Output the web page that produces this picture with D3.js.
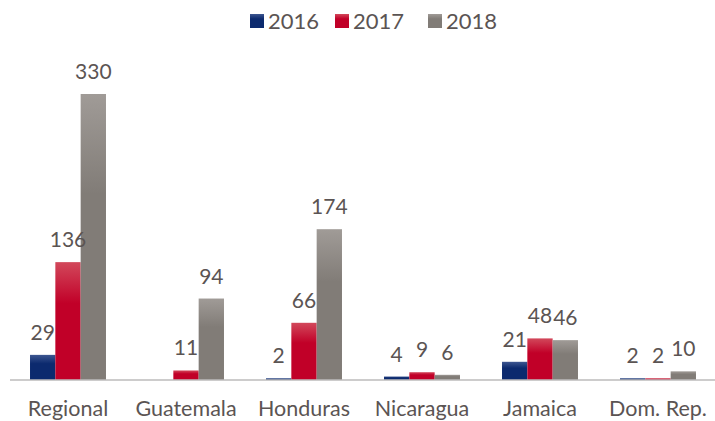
<!DOCTYPE html>
<html>
<head>
<meta charset="utf-8">
<script src="https://cdn.jsdelivr.net/npm/d3@7"></script>
<style>
  html, body { margin: 0; padding: 0; background: #fff; }
  svg { display: block; font-family: Lato, "Open Sans", sans-serif; }
</style>
</head>
<body>
<svg id="chart" width="715" height="421"></svg>
<script>
// Countries and yearly counts
const categories = ["Regional", "Guatemala", "Honduras", "Nicaragua", "Jamaica", "Dom. Rep."];
const years = ["2016", "2017", "2018"];
const values2016 = [29, null, 2, 4, 21, 2];
const values2017 = [136, 11, 66, 9, 48, 2];
const values2018 = [330, 94, 174, 6, 46, 10];
const seriesValues = [values2016, values2017, values2018];

const colors = {
  "2016": ["#3d5690", "#0c2a6e"],
  "2017": ["#d2485b", "#c10028"],
  "2018": ["#a09b97", "#817c77"]
};
const textColor = "#5b5453";

const svg = d3.select("#chart");

// Vertical gradients, lighter near the top of each bar
const defs = svg.append("defs");
years.forEach(y => {
  const g = defs.append("linearGradient")
    .attr("id", "grad" + y)
    .attr("x1", 0).attr("y1", 0).attr("x2", 0).attr("y2", 1);
  g.append("stop").attr("offset", "0%").attr("stop-color", colors[y][0]);
  g.append("stop").attr("offset", "35%").attr("stop-color", colors[y][1]);
  g.append("stop").attr("offset", "100%").attr("stop-color", colors[y][1]);
});

const x0 = d3.scaleBand().domain(categories).range([9, 717]).paddingInner(0).paddingOuter(0);
const x1 = d3.scaleBand().domain(years).range([0, x0.bandwidth()]).paddingInner(0).paddingOuter(0.83);
const y = d3.scaleLinear().domain([0, 330]).range([380, 94]);

const data = categories.map((c, i) => ({
  category: c,
  bars: years.map((yr, j) => ({ year: yr, value: seriesValues[j][i] }))
}));

const groups = svg.append("g").selectAll("g")
  .data(data).join("g")
  .attr("transform", d => `translate(${x0(d.category)},0)`);

groups.selectAll("rect")
  .data(d => d.bars.filter(b => b.value != null))
  .join("rect")
  .attr("x", d => x1(d.year))
  .attr("y", d => y(d.value))
  .attr("width", x1.bandwidth())
  .attr("height", d => y(0) - y(d.value))
  .attr("fill", d => `url(#grad${d.year})`);

groups.selectAll("text.val")
  .data(d => d.bars.filter(b => b.value != null))
  .join("text")
  .attr("class", "val")
  .attr("x", d => x1(d.year) + x1.bandwidth() / 2)
  .attr("y", d => y(d.value) - 15)
  .attr("text-anchor", "middle")
  .attr("font-size", 21)
  .attr("fill", textColor)
  .text(d => d.value);

// Baseline axis
const xAxis = d3.axisBottom(x0).tickSize(0).tickPadding(21);
const axisG = svg.append("g").attr("transform", `translate(0,${y(0)})`).call(xAxis);
axisG.select(".domain").attr("stroke", "#bdbbbb").attr("stroke-width", 1.5)
  .attr("d", "M10,0H715");
axisG.selectAll("text")
  .attr("font-size", 21.5)
  .attr("fill", textColor)
  .attr("font-family", "Lato, 'Open Sans', sans-serif");

// Legend
const legendX = [250, 335, 428];
const legend = svg.append("g");
years.forEach((yr, i) => {
  const g = legend.append("g").attr("transform", `translate(${legendX[i]},14)`);
  g.append("rect").attr("width", 14).attr("height", 14).attr("fill", `url(#grad${yr})`);
  g.append("text").attr("x", 18).attr("y", 15).attr("font-size", 22)
    .attr("fill", textColor).text(yr);
});
</script>
</body>
</html>
